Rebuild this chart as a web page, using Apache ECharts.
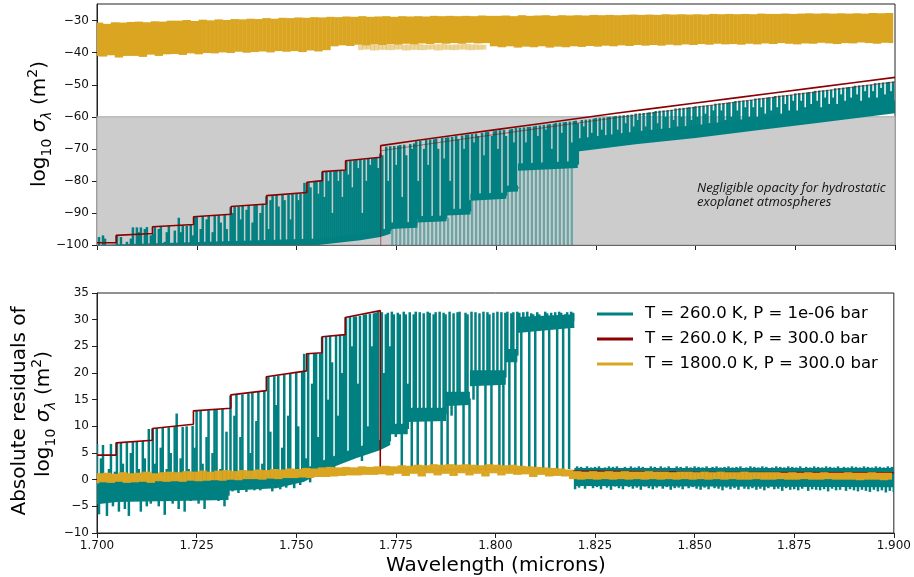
<!DOCTYPE html>
<html><head><meta charset="utf-8">
<script src="https://cdn.jsdelivr.net/npm/echarts@6/dist/echarts.min.js"></script>
<style>html,body{margin:0;padding:0;background:#fff}#c{width:914px;height:577px}</style>
</head><body><div id="c"></div>
<script>
// ---------- data ----------
const WL_START = 1.700;
const WL_STEP = 0.001;        // grid of the gold spectra / faint lines
const WL_FINE_STEP = 0.0005;  // grid of the teal spectra
const seriesNames = ['T = 260.0 K, P = 1e-06 bar', 'T = 260.0 K, P = 300.0 bar', 'T = 1800.0 K, P = 300.0 bar'];
const topYTicks = [-100, -90, -80, -70, -60, -50, -40, -30];
const botYTicks = [-10, -5, 0, 5, 10, 15, 20, 25, 30, 35];
const negligibleBand = [-100, -60];

// ---- top panel, teal (T=260 K, P=1e-6 bar): dense continuum band + line peaks ----
const tealTopCoreX  = [1.700,1.7555,1.766,1.771,1.7736,1.7736,1.7803,1.7803,1.7876,1.7876,1.7936,1.7936,1.8026,1.8026,1.8055,1.8055,1.8205,1.8205,1.835,1.850,1.865,1.880,1.900];
const tealTopCoreLo = [-101,-100,-98.5,-97.5,-96.5,-95,-94.6,-93,-92.6,-90.8,-90.5,-86.2,-85.6,-83.5,-83.3,-76.8,-76,-70.8,-68.6,-66.6,-64.3,-62,-58.9];
const tealTopCoreHi = [-101,-98,-96.5,-95.5,-94.5,-93,-92.8,-91,-90.8,-88.8,-88.6,-84,-83.6,-81.5,-81.3,-74.6,-73.8,-66.8,-64.6,-62.6,-60.3,-58,-54.9];
const tealTopPeaks = [
-101,-97.5,-101,-97,-98,-101,-101,-101,-101,-101,
-97,-101,-97.5,-101,-101,-99,-101,-98,-94.5,-101,
-94.5,-96,-94.5,-101,-95,-94.4,-101,-97,-96.5,-94.3,
-101,-95,-94.2,-101,-99,-96,-94,-101,-101,-95.5,
-101,-91.5,-96,-93.8,-101,-94,-101,-93.7,-97,-91.2,
-91,-101,-95,-91,-101,-92,-91,-101,-96,-90.8,
-101,-90.7,-93,-101,-90.6,-95,-101,-88.2,-90,-88,
-101,-88,-92,-87.8,-101,-89,-87.7,-101,-93,-87.6,
-87.5,-101,-90,-87.4,-101,-84.8,-95,-86,-84.6,-101,
-84.4,-88,-101,-84.3,-86,-101,-84.2,-92,-84.1,-101,
-83.9,-86,-84,-101,-80.6,-83,-80.4,-82,-101,-80.3,
-80.2,-84,-80,-77.2,-85,-77.1,-80,-77,-90,-77,
-76.9,-80,-76.8,-85,-76.7,-73.8,-78,-73.7,-82,-73.6,
-73.5,-76,-73.4,-90,-73.3,-80,-73.1,-75,-73,-72.9,
-72.8,-76,-71.5,-72,-95,-69.3,-80,-69.2,-94,-69.1,
-75,-69,-68.8,-85,-68.7,-72,-94,-68.5,-70,-68.3,
-67.6,-80,-67.5,-91,-70,-67.2,-75,-67.1,-91,-67,
-66.8,-70,-91,-66.6,-73,-66.5,-66.4,-80,-66.3,-89,
-65.9,-67,-89,-65.8,-70,-65.6,-65.5,-86,-65.4,-68,
-65.2,-66,-85,-65,-72,-64.8,-64.7,-85,-66,-64.5,
-64.3,-70,-64.2,-84,-64.1,-66,-82,-64,-63.8,-68,
-63.5,-82,-63.4,-75,-63.3,-68,-63.2,-63.1,-75,-63,
-62.8,-66,-62.7,-75,-62.5,-64,-62.4,-62.3,-70,-62.2,
-61.9,-75,-61.8,-65,-61.7,-61.6,-75,-61.5,-68,-61.3,
-61.2,-62,-70,-61,-63,-60.9,-69,-60.8,-65,-60.6,
-60.4,-68,-60.3,-64,-60.2,-66,-60.1,-60,-68,-59.9,
-59.7,-64,-59.6,-67,-59.5,-62,-59.4,-66,-59.3,-63,
-59,-61,-58.9,-66,-58.8,-63,-58.7,-58.6,-65,-58.5,
-58.2,-62,-58.1,-64,-58,-60,-57.9,-65,-57.8,-61,
-57.4,-63,-57.3,-60,-57.2,-63,-57.1,-57,-61,-56.9,
-56.7,-60,-56.6,-63,-56.5,-59,-56.4,-62,-56.3,-58,
-55.9,-62,-55.8,-58,-55.7,-61,-55.6,-55.5,-60,-55.4,
-55.1,-58,-55,-61,-54.9,-57,-54.8,-60,-54.7,-57,
-54.3,-60,-54.2,-57,-54.1,-59,-54,-53.9,-58,-53.8,
-53.5,-57,-53.4,-59,-53.3,-56,-53.2,-58,-53.1,-55,
-52.7,-58,-52.6,-55,-52.5,-57,-52.4,-52.3,-56,-52.2,
-51.9,-55,-51.8,-57,-51.7,-54,-51.6,-56,-51.5,-54,
-51.1,-56,-51,-53,-50.9,-55,-50.8,-50.7,-54,-50.6,
-50.3,-53,-50.2,-55,-50.1,-52,-50,-54,-49.9,-52,
-49.5,-54,-49.4,-51,-49.3,-53,-49.2,-49.1,-52,-49,-56
];
// faint teal lines below the continuum (on the 0.001 grid, from index 74)
const tealTopFaintStart = 74;
const tealTopFaint = [
-94,-101,-93.8,-101,-93.8,-101,
-91.7,-101,-91.7,-101,-91.6,-101,-91.6,-101,-91.5,-101,
-89.6,-101,-89.5,-101,-85,-101,-85,-101,-84.9,-101,
-84.7,-101,-84.5,-101,-82,-101,-75.8,-101,-75.6,-101,
-75.5,-101,-75.4,-101,-75.3,-101,-75.2,-101,-75,-101,-75
];
// ---- top panel, gold (T=1800 K, P=300 bar), 0.001 grid ----
const goldTop = [
-41,-30.6,-41.2,-31,-40.8,-30.5,-41.5,-30.6,-41,-30.4,
-41,-30.3,-41.3,-30.5,-40.6,-30.2,-41,-30.3,-40.5,-30,
-40.4,-30,-40.7,-29.8,-40.2,-30.1,-40.5,-29.7,-40.1,-29.9,
-40.2,-29.6,-39.9,-29.8,-40.1,-29.5,-39.7,-29.6,-40,-29.4,
-39.8,-29.5,-39.6,-29.2,-39.9,-29.4,-39.5,-29.1,-39.7,-29.2,
-39.5,-29,-39.8,-29.1,-39.3,-28.9,-39.6,-29,-39.2,-28.8,
-38,-28.9,-37.7,-28.7,-37.9,-28.8,-37.5,-28.6,-37.7,-28.8,
-37.4,-28.7,-37.6,-28.6,-37.3,-28.8,-37.5,-28.6,-37.2,-28.7,
-37.4,-28.6,-37.1,-28.7,-37.3,-28.5,-37,-28.6,-37.2,-28.5,
-37,-28.6,-37.2,-28.5,-36.9,-28.6,-37.1,-28.4,-37,-28.5,
-38,-28.5,-38.3,-28.4,-38,-28.6,-38.4,-28.3,-38.1,-28.5,
-38.3,-28.4,-38,-28.3,-38.4,-28.5,-38.1,-28.3,-38.3,-28.4,
-38,-28.3,-38.2,-28.4,-37.9,-28.2,-38.1,-28.3,-37.8,-28.2,
-38,-28.3,-37.7,-28.2,-37.9,-28.1,-37.6,-28.2,-37.8,-28.1,
-37.6,-28.2,-37.8,-28,-37.5,-28.1,-37.7,-28,-37.4,-28.1,
-37.6,-28,-37.3,-28.1,-37.5,-27.9,-37.2,-28,-37.4,-27.9,
-37.3,-28,-37.5,-27.9,-37.2,-28,-37.4,-27.8,-37.1,-27.9,
-37.3,-27.9,-37,-27.8,-37.2,-27.9,-37.4,-27.8,-37.1,-27.7,
-37.2,-27.8,-36.9,-27.7,-37.1,-27.8,-37.3,-27.7,-37,-27.8,
-37.1,-27.7,-36.8,-27.8,-37,-27.6,-37.2,-27.7,-36.9,-27.6,-37
];
const goldTopFaintStart = 66;
const goldTopFaint = [
-39.2,-37.5,-39,-37.4,-39.3,-37.5,-39.1,-37.3,-39.2,-37.4,
-39,-37.5,-39.3,-37.4,-39.1,-37.3,-39.2,-37.5,-39,-37.4,
-39.3,-37.3,-39.1,-37.5,-39.2,-37.4,-39,-37.3,-39.2,-37.4,
-39.1,-37.5,-39
];
// ---- top panel, dark red (T=260 K, P=300 bar), breakpoints ----
const redTopX = [1.700,1.7048,1.7048,1.7139,1.7139,1.7242,1.7242,1.7336,1.7336,1.7425,1.7425,1.7526,1.7526,1.7565,1.7565,1.7623,1.7623,1.7711,1.7711,1.780,1.790,1.800,1.810,1.820,1.830,1.840,1.850,1.860,1.870,1.880,1.890,1.900];
const redTopY = [-99.3,-99.3,-97.0,-96.4,-94.3,-93.6,-91.2,-90.4,-88.0,-87.2,-84.6,-83.6,-80.4,-79.9,-77.1,-76.6,-73.7,-72.6,-69.0,-67.4,-65.7,-64.0,-62.3,-60.6,-58.9,-57.3,-55.7,-54.1,-52.5,-50.9,-49.3,-47.7];
const redTopFaintX = [1.7711,1.7711,1.800,1.830,1.860,1.900];
const redTopFaintY = [-101,-70.6,-65.5,-60.3,-55.4,-49.1];

// ---- bottom panel: absolute residuals ----
const tealBotCoreX  = [1.700,1.705,1.733,1.733,1.745,1.752,1.758,1.765,1.771,1.7736,1.7736,1.778,1.778,1.7876,1.7876,1.7936,1.7936,1.8026,1.8026,1.8055,1.8055,1.8198,1.8198,1.900];
const tealBotCoreLo = [-4.6,-4.2,-3.8,-2.1,-1.6,-0.4,2,4,5.5,6.5,8.5,8.5,10.8,11,13.8,14,17.5,17.8,22,22,27.5,28.5,-1.2,-1.4];
const tealBotCoreHi = [0.8,0.4,0,0.5,1,2,4,6,7.5,8,10.5,10.5,13.5,13.5,16.5,16.5,20.5,20.5,24.5,24.5,30.5,31,2.2,2.2];
const tealBotPeaks = [
6.7,-6.5,4,6.5,-3,-6.8,2,6.7,-5,1.5,
6.9,-6,7,3,-5.5,7,-6.8,5,7.1,-4,
7.2,2,-6,7.3,4,-5,9.5,-4.5,9.6,3,
9.7,-5,6,9.7,-6.6,2,9.8,5,-4.5,9.9,
12.4,-5.5,4,9.9,-6,10,2,-4,10.1,6,
13,-4.5,12.9,3,-5.5,8,13,-3.5,5,13.1,
13.2,-4,2,13.3,-5,9,-3,15.8,-2.2,12,
16,-2.5,8,16,1,-2.3,16.2,5,16.3,-2,
11,16.5,-2,3,16.6,-1.5,19.3,9,-2.2,19.4,
14,19.5,-1.8,6,19.7,-1.5,12,19.9,2,-1.6,
20.2,10,-1,20.3,23.6,4,23.6,-0.5,18,23.7,
23.7,8,23.7,26.8,2,26.9,15,27,22,1,
27.1,12,27.1,20,27.2,30.4,5,30.5,25,30.6,
30.6,18,30.7,3.5,30.9,31,10,31.1,25,31.2,
31.3,31.5,6,31.4,20,31,31.3,25,31.5,31,
8,31.3,31,2,31.5,31,18,31.4,2,31,
31.5,1.6,31.4,12,31.2,2,31.5,31.3,1.5,31,
31.4,11,31.5,2,31.3,31,1.8,31.5,12,31.2,
1.7,31.4,31.5,15,2,31.3,31,1.6,31.5,15,
31.4,2,31.2,19,31.5,1.6,31.4,31,2,31.3,
19,31.5,1.6,31.4,2,31.3,31.5,1.5,31.2,31.4,
2,31.5,31.3,1.7,31.4,30,31.5,1.8,31.2,31,
1.6,31.4,31,30,2,31.5,31.2,1.5,31.3,30,
31.4,2,31.5,31.3,1.8,31,31.4,2,31.5,31.3,
-1.8,2.5,-1.5,2.4,0,-1.7,2.5,-1.2,2.3,-1.6,
2.4,-1.4,2.5,-1.8,1,2.3,-1.5,2.5,-1.9,2.4,
-1.3,2.5,-1.6,2.2,-1.8,2.4,0.5,-1.4,2.5,-1.7,
2.3,-1.5,2.5,-1.9,2.4,-1.3,2.2,-1.6,2.5,-1.8,
2.4,-1.5,1,2.5,-1.7,2.3,-1.4,2.5,-1.9,2.2,
-1.6,2.5,-1.5,2.4,-1.8,0.5,2.5,-1.6,2.3,-1.4,
2.5,-1.7,2.4,-1.9,2.3,-1.5,2.5,-1.8,1,2.4,
-1.6,2.5,-1.7,2.3,-2,2.4,-1.5,2.5,-1.8,2.3,
-1.6,2.4,-1.9,2.5,0.5,-1.7,2.3,-1.8,2.5,-1.6,
2.4,-1.9,2.3,-1.7,2.5,-2,2.4,-1.6,1,2.3,
-1.8,2.5,-1.7,2.4,-2.1,2.3,-1.6,2.5,-1.9,2.4,
-1.8,2.3,-2,2.5,-1.7,0.5,2.4,-2.1,2.3,-1.8,
2.5,-1.9,2.4,-2,2.3,-1.8,2.5,-2.2,2.4,-1.7,
2.3,-2,2.5,-1.9,1,2.4,-2.1,2.3,-1.8,2.5,
-2,2.4,-2.2,2.3,-1.9,2.5,-2.1,2.4,-2.3,2.3,
-1.9,2.5,-2.2,2.4,-2,2.3,-2.4,2.5,-2.1,2.4,-2.3
];
const goldBot = [
-0.7,1.2,-0.5,1.3,-0.6,1.1,-0.4,1.4,-0.6,1.2,
-0.5,1.3,-0.4,1.5,-0.6,1.2,-0.3,1.4,-0.4,1.5,
-0.3,1.4,-0.4,1.6,-0.2,1.5,-0.3,1.7,-0.2,1.5,
-0.1,1.7,-0.2,1.8,0,1.6,-0.1,1.8,0.1,1.7,
0.1,1.9,0,1.8,0.2,2,0.1,1.9,0.3,2.1,
0.3,2,0.4,2.2,0.3,2.1,0.5,2.3,0.5,2.4,
0.6,2.3,0.7,2.4,0.8,2.3,0.8,2.5,0.9,2.4,
0.9,2.5,1,2.6,0.8,2.5,1.1,2.7,0.7,2.6,
1.1,2.8,0.6,2.7,1.2,2.9,0.8,2.8,1.1,2.9,
0.7,2.8,1.2,2.9,0.8,2.8,1.1,2.7,0.6,2.9,
1.2,2.8,0.8,2.7,1.1,2.8,0.9,2.6,1,2.5,
0.5,2.4,0.9,2.3,0.6,2.2,0.7,2.1,0.6,1.9,
0.1,1.6,0,1.5,0.1,1.6,0,1.5,0.1,1.6,
0,1.5,0.1,1.6,0,1.5,0.1,1.5,0,1.6,
0.1,1.5,0,1.5,0.1,1.4,0,1.5,0.1,1.5,
0,1.4,0.1,1.5,0,1.4,0.1,1.5,0,1.4,
0.1,1.4,0,1.5,0,1.4,0.1,1.4,0,1.4,
0,1.4,0.1,1.3,0,1.4,0,1.3,0.1,1.4,
0,1.3,0,1.4,0.1,1.3,0,1.3,0,1.4,
0,1.3,-0.1,1.3,0,1.4,0,1.3,-0.1,1.3,0
];
const redBotX = [1.700,1.7048,1.7048,1.7139,1.7139,1.7242,1.7242,1.7336,1.7336,1.7425,1.7425,1.7526,1.7526,1.7565,1.7565,1.7623,1.7623,1.7711,1.7711,1.790,1.805,1.8198,1.8198,1.850,1.900];
const redBotY = [4.6,4.6,6.9,7.4,9.6,10.4,12.9,13.4,15.9,16.7,19.3,20.4,23.6,23.8,26.8,27.2,30.4,31.7,1.6,1.9,2.0,1.6,1.5,1.4,1.3];

// ---------- helpers ----------
const TEAL = '#008080', RED = '#8b0000', GOLD = '#daa520';
const FONT = 'DejaVu Sans';
const gridX = (i, step) => +(WL_START + i * step).toFixed(5);
function pairs(xs, ys) { return xs.map((x, k) => [x, ys[k]]); }
// start point of a peak stroke: middle of the continuum band at x
function bandMid(xs, lo, hi, x) {
  for (let k = 0; k < xs.length - 1; k++) {
    if (x >= xs[k] && x <= xs[k + 1] && xs[k + 1] > xs[k]) {
      const t = (x - xs[k]) / (xs[k + 1] - xs[k]);
      return ((lo[k] + hi[k]) * (1 - t) + (lo[k + 1] + hi[k + 1]) * t) / 2;
    }
  }
  return (lo[lo.length - 1] + hi[hi.length - 1]) / 2;
}
function lineSeries(name, data, panel, color, width, z, opacity) {
  return {
    type: 'line', name: name, data: data, xAxisIndex: panel, yAxisIndex: panel,
    showSymbol: false, symbol: 'none', animation: false, clip: true, z: z,
    lineStyle: { color: color, width: width, opacity: opacity == null ? 1 : opacity },
    itemStyle: { color: color }, emphasis: { disabled: true }
  };
}
function strokeRenderer(color, width, opacity) {
  return function (params, api) {
    const cs = params.coordSys;
    const a = api.coord([api.value(0), api.value(1)]);
    const b = api.coord([api.value(0), api.value(2)]);
    const top = cs.y, bot = cs.y + cs.height;
    const cy = y => Math.min(Math.max(y, top), bot);
    return { type: 'line', silent: true,
      shape: { x1: a[0], y1: cy(a[1]), x2: a[0], y2: cy(b[1]) },
      style: { stroke: color, lineWidth: width, opacity: opacity, lineCap: 'butt' } };
  };
}
function customBase(name, data, panel, color, z) {
  return { type: 'custom', name: name, data: data, xAxisIndex: panel, yAxisIndex: panel, z: z,
    clip: true, silent: true, animation: false, progressive: 0, encode: { x: 0, y: [1, 2] }, itemStyle: { color: color } };
}
// spectrum on a regular grid: stroke from each sample to the next one
function spectrumSeries(name, vals, start, panel, color, width, z, opacity) {
  const data = [];
  for (let k = 0; k < vals.length - 1; k++) data.push([gridX(start + k, WL_STEP), vals[k], vals[k + 1]]);
  return Object.assign(customBase(name, data, panel, color, z), { renderItem: strokeRenderer(color, width, opacity == null ? 1 : opacity) });
}
// line peaks on the fine grid: stroke from the continuum band to each peak value
function peakSeries(name, vals, bx, blo, bhi, panel, color, width, z) {
  const data = vals.map((v, k) => { const x = gridX(k, WL_FINE_STEP); return [x, bandMid(bx, blo, bhi, x), v]; });
  return Object.assign(customBase(name, data, panel, color, z), { renderItem: strokeRenderer(color, width, 1) });
}
// the continuum band itself, as a filled polygon
function bandSeries(name, bx, blo, bhi, panel, color, z) {
  return Object.assign(customBase(name, [[bx[0], blo[0], bhi[0]]], panel, color, z), {
    renderItem: function (params, api) {
      const cs = params.coordSys;
      const cy = y => Math.min(Math.max(y, cs.y), cs.y + cs.height);
      const pts = [];
      for (let k = 0; k < bx.length; k++) { const p = api.coord([bx[k], blo[k]]); pts.push([p[0], cy(p[1])]); }
      for (let k = bx.length - 1; k >= 0; k--) { const p = api.coord([bx[k], bhi[k]]); pts.push([p[0], cy(p[1])]); }
      return { type: 'polygon', silent: true, shape: { points: pts }, style: { fill: color } };
    }
  });
}
const minus = v => String(v).replace('-', '\u2212');

function xAxis(idx, showLabels) {
  return {
    type: 'value', gridIndex: idx, min: 1.7, max: 1.9, interval: 0.025,
    axisLine: { show: true, onZero: false, lineStyle: { color: '#222', width: 1 } },
    axisTick: { show: true, inside: false, length: 5, lineStyle: { color: '#222' } },
    axisLabel: { show: showLabels, formatter: v => v.toFixed(3), color: '#111', fontSize: 12, fontFamily: FONT, margin: 7 },
    splitLine: { show: false }
  };
}
function yAxis(idx, min, max, ticks) {
  return {
    type: 'value', gridIndex: idx, min: min, max: max,
    axisLine: { show: true, onZero: false, lineStyle: { color: '#222', width: 1 } },
    axisTick: { show: true, inside: false, length: 5, lineStyle: { color: '#222' }, customValues: ticks },
    axisLabel: { color: '#111', fontSize: 12, fontFamily: FONT, margin: 8, formatter: minus, customValues: ticks },
    splitLine: { show: false }
  };
}

const mathRich = {
  n: { fontSize: 20, fontFamily: FONT, lineHeight: 28, color: '#000' },
  i: { fontSize: 20, fontFamily: FONT, fontStyle: 'italic', lineHeight: 28, color: '#000' },
  s: { fontSize: 14, fontFamily: FONT, lineHeight: 14, verticalAlign: 'bottom', color: '#000' },
  si: { fontSize: 14, fontFamily: FONT, fontStyle: 'italic', lineHeight: 14, verticalAlign: 'bottom', color: '#000' },
  p: { fontSize: 14, fontFamily: FONT, lineHeight: 14, verticalAlign: 'top', color: '#000' }
};
const mathLabel = '{n|log}{s|10}{n| }{i|σ}{si|λ}{n| (m}{p|2}{n|)}';

const chart = echarts.init(document.getElementById('c'), null, { renderer: 'canvas' });
chart.setOption({
  backgroundColor: '#fff',
  animation: false,
  grid: [
    { left: 97, right: 19, top: 4, height: 241, show: true, borderColor: '#222', borderWidth: 1, backgroundColor: 'transparent' },
    { left: 97, right: 19, top: 293, height: 240, show: true, borderColor: '#222', borderWidth: 1, backgroundColor: 'transparent' }
  ],
  xAxis: [xAxis(0, false), xAxis(1, true)],
  yAxis: [yAxis(0, -100, -24.8, topYTicks), Object.assign(yAxis(1, -10, 35, botYTicks), { interval: 5 })],
  legend: {
    data: seriesNames, orient: 'vertical', left: 597, top: 304, padding: 0,
    itemWidth: 36, itemHeight: 3, itemGap: 5, icon: 'rect', selectedMode: false,
    textStyle: { fontSize: 16.5, fontFamily: FONT, color: '#000', lineHeight: 20, padding: [0, 0, 0, 7] }
  },
  series: [
    {
      type: 'line', name: 'negligible', data: [], xAxisIndex: 0, yAxisIndex: 0, z: 1, silent: true,
      markArea: { silent: true, itemStyle: { color: '#cccccc', borderColor: '#a9a9a9', borderWidth: 1 },
        data: [[{ xAxis: 1.7, yAxis: negligibleBand[0] }, { xAxis: 1.9, yAxis: negligibleBand[1] }]] }
    },
    spectrumSeries('tealFaint', tealTopFaint, tealTopFaintStart, 0, TEAL, 2.2, 2, 0.5),
    bandSeries(seriesNames[0], tealTopCoreX, tealTopCoreLo, tealTopCoreHi, 0, TEAL, 3),
    peakSeries(seriesNames[0], tealTopPeaks, tealTopCoreX, tealTopCoreLo, tealTopCoreHi, 0, TEAL, 2.5, 3),
    lineSeries('redFaint', pairs(redTopFaintX, redTopFaintY), 0, RED, 1.2, 4, 0.45),
    lineSeries(seriesNames[1], pairs(redTopX, redTopY), 0, RED, 1.6, 5),
    spectrumSeries('goldFaint', goldTopFaint, goldTopFaintStart, 0, GOLD, 4.6, 6, 0.45),
    spectrumSeries(seriesNames[2], goldTop, 0, 0, GOLD, 4.4, 7),

    bandSeries(seriesNames[0], tealBotCoreX, tealBotCoreLo, tealBotCoreHi, 1, TEAL, 3),
    peakSeries(seriesNames[0], tealBotPeaks, tealBotCoreX, tealBotCoreLo, tealBotCoreHi, 1, TEAL, 2.5, 3),
    lineSeries(seriesNames[1], pairs(redBotX, redBotY), 1, RED, 1.6, 5),
    spectrumSeries(seriesNames[2], goldBot, 0, 1, GOLD, 4.4, 7)
  ],
  graphic: [
    { type: 'text', x: 40, y: 124, rotation: Math.PI / 2, z: 100,
      style: { text: mathLabel, rich: mathRich, align: 'center', verticalAlign: 'middle' } },
    { type: 'text', x: 20, y: 411, rotation: Math.PI / 2, z: 100,
      style: { text: 'Absolute residuals of', fontSize: 20, fontFamily: FONT, fill: '#000', align: 'center', verticalAlign: 'middle' } },
    { type: 'text', x: 44, y: 414, rotation: Math.PI / 2, z: 100,
      style: { text: mathLabel, rich: mathRich, align: 'center', verticalAlign: 'middle' } },
    { type: 'text', x: 496, y: 566, z: 100,
      style: { text: 'Wavelength (microns)', fontSize: 20, fontFamily: FONT, fill: '#000', align: 'center', verticalAlign: 'middle' } },
    { type: 'text', x: 697, y: 181, z: 100,
      style: { text: 'Negligible opacity for hydrostatic\nexoplanet atmospheres', fontSize: 13, fontStyle: 'italic', fontFamily: 'Open Sans', lineHeight: 14, fill: '#111', align: 'left', verticalAlign: 'top' } }
  ]
});
</script></body></html>
